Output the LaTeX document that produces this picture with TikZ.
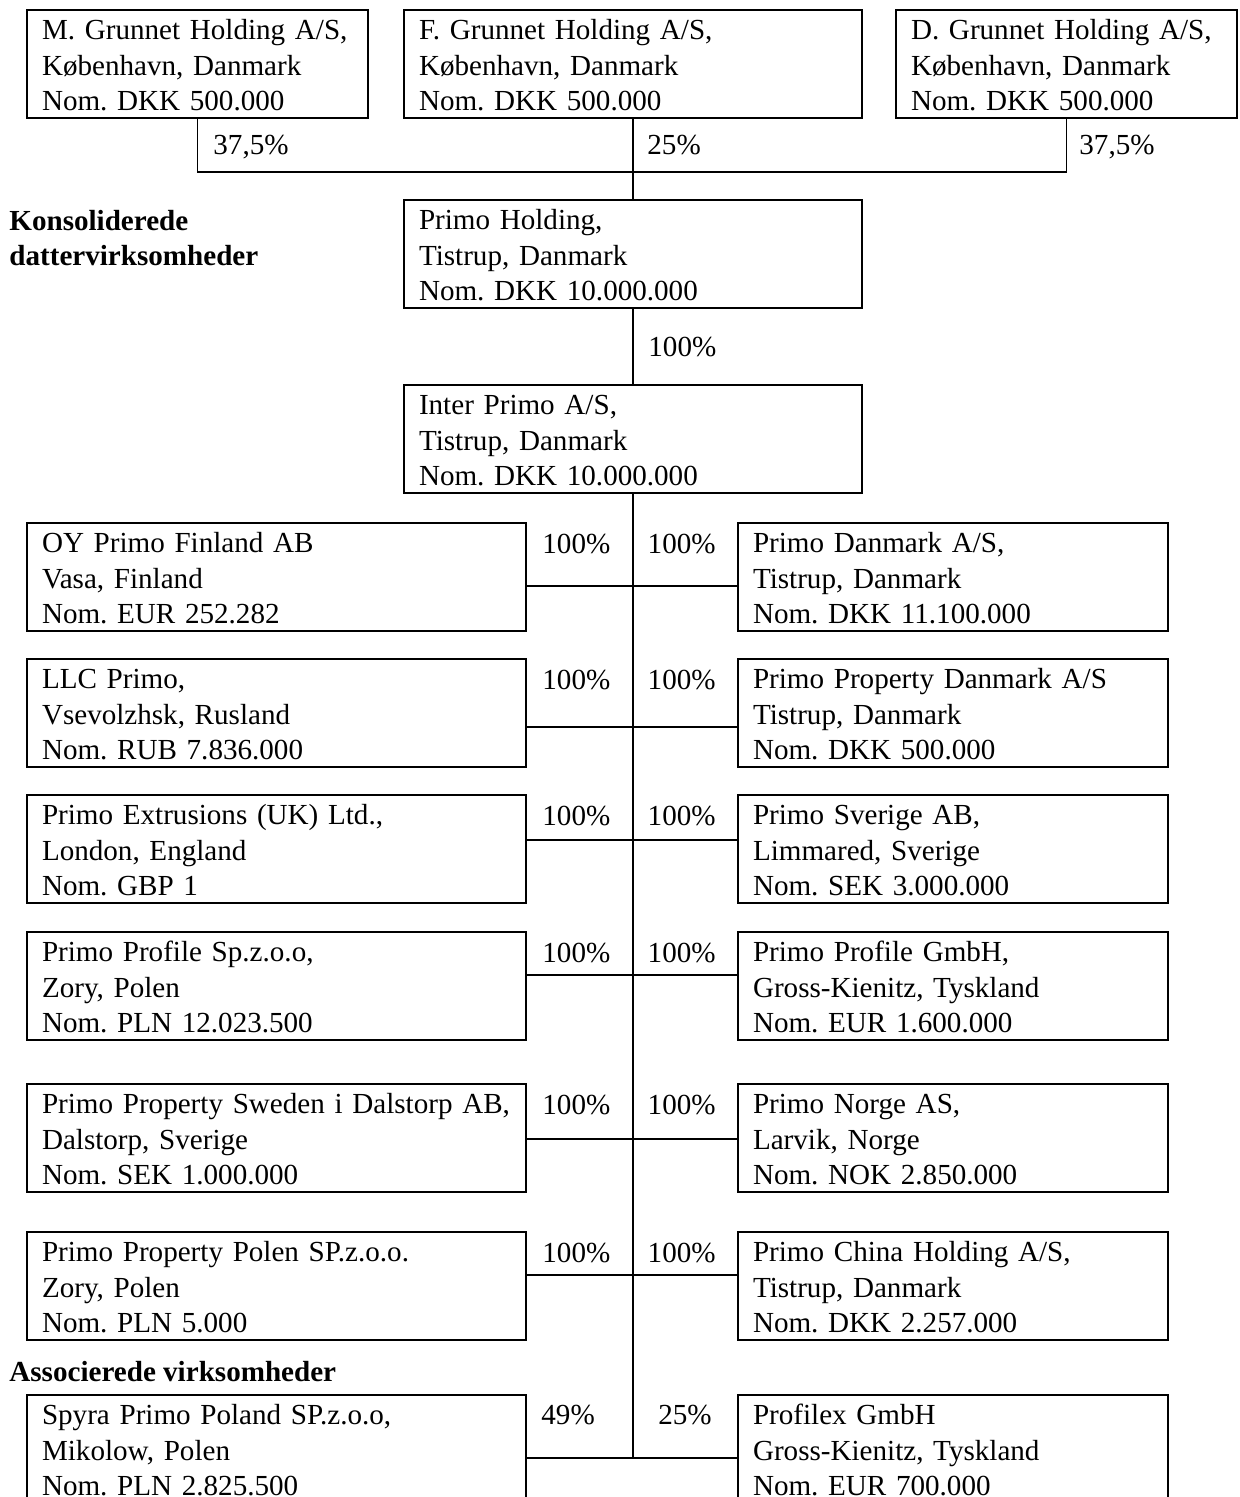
\documentclass[tikz,border=0pt]{standalone}
\usepackage{fontspec}
\setmainfont{Liberation Serif}
\frenchspacing
\begin{document}
\begin{tikzpicture}[x=0.5pt, y=-0.5pt,
    font=\fontsize{14.55}{17.75}\selectfont,
    company/.style={draw, line width=1pt, anchor=north west, outer sep=0pt,
        inner xsep=7.5pt, inner ysep=0pt, minimum height=54pt, text width=#1,
        align=left, execute at begin node={\rule{0pt}{11.5pt}}},
    share/.style={inner sep=0pt},
    heading/.style={inner sep=0pt, align=left,
        font=\fontsize{14.55}{17.5}\selectfont\bfseries},
    link/.style={line width=0.85pt}]
    \useasboundingbox (0,0) rectangle (1240,1497);
    \clip (0,0) rectangle (1240,1497);

    % 股东
    \node[company=155.5pt] (mgh) at (27,10) {M. Grunnet Holding A/S,\\København, Danmark\\Nom. DKK 500.000};
    \node[company=214pt] (fgh) at (404,10) {F. Grunnet Holding A/S,\\København, Danmark\\Nom. DKK 500.000};
    \node[company=155.5pt] (dgh) at (896,10) {D. Grunnet Holding A/S,\\København, Danmark\\Nom. DKK 500.000};
    \coordinate (bar) at (632,172);
    \draw[link] (mgh.south) |- (bar) -| (dgh.south);
    \node[share, anchor=base west] (s1) at (213,155) {37,5\%};
    \node[share, anchor=base west] (s2) at (647,155) {25\%};
    \node[share, anchor=base west] (s3) at (1079,155) {37,5\%};

    % 控股公司
    \node[heading, anchor=north west] (kons) at (9,210) {Konsoliderede\\dattervirksomheder};
    \node[company=214pt] (ph) at (404,200) {Primo Holding,\\Tistrup, Danmark\\Nom. DKK 10.000.000};
    \node[company=214pt] (ip) at (404,385) {Inter Primo A/S,\\Tistrup, Danmark\\Nom. DKK 10.000.000};
    \draw[link] (fgh.south) -- (ph.north);
    \draw[link] (ph.south) -- (ip.north);
    \node[share, anchor=base west] (s4) at (648,357) {100\%};

    % 子公司
    \node[company=234.5pt] (fin) at (27,523) {OY Primo Finland AB\\Vasa, Finland\\Nom. EUR 252.282};
    \node[company=200pt] (dk) at (738,523) {Primo Danmark A/S,\\Tistrup, Danmark\\Nom. DKK 11.100.000};
    \node[company=234.5pt] (rus) at (27,659) {LLC Primo,\\Vsevolzhsk, Rusland\\Nom. RUB 7.836.000};
    \node[company=200pt] (pdk) at (738,659) {Primo Property Danmark A/S\\Tistrup, Danmark\\Nom. DKK 500.000};
    \node[company=234.5pt] (uk) at (27,795) {Primo Extrusions (UK) Ltd.,\\London, England\\Nom. GBP 1};
    \node[company=200pt] (se) at (738,795) {Primo Sverige AB,\\Limmared, Sverige\\Nom. SEK 3.000.000};
    \node[company=234.5pt] (pl) at (27,932) {Primo Profile Sp.z.o.o,\\Zory, Polen\\Nom. PLN 12.023.500};
    \node[company=200pt] (de) at (738,932) {Primo Profile GmbH,\\Gross-Kienitz, Tyskland\\Nom. EUR 1.600.000};
    \node[company=234.5pt] (pse) at (27,1084) {Primo Property Sweden i Dalstorp AB,\\Dalstorp, Sverige\\Nom. SEK 1.000.000};
    \node[company=200pt] (no) at (738,1084) {Primo Norge AS,\\Larvik, Norge\\Nom. NOK 2.850.000};
    \node[company=234.5pt] (ppl) at (27,1232) {Primo Property Polen SP.z.o.o.\\Zory, Polen\\Nom. PLN 5.000};
    \node[company=200pt] (cn) at (738,1232) {Primo China Holding A/S,\\Tistrup, Danmark\\Nom. DKK 2.257.000};

    % 联营公司
    \node[heading, anchor=base west] (assoc) at (9,1381) {Associerede virksomheder};
    \node[company=234.5pt] (spy) at (27,1395) {Spyra Primo Poland SP.z.o.o,\\Mikolow, Polen\\Nom. PLN 2.825.500};
    \node[company=200pt] (pfx) at (738,1395) {Profilex GmbH\\Gross-Kienitz, Tyskland\\Nom. EUR 700.000};

    % 主干线和分支
    \coordinate (j1) at (632,586);
    \coordinate (j2) at (632,727);
    \coordinate (j3) at (632,840);
    \coordinate (j4) at (632,975);
    \coordinate (j5) at (632,1139);
    \coordinate (j6) at (632,1275);
    \coordinate (j7) at (632,1458);
    \draw[link] (ip.south) -- (ip.south |- j7);
    \draw[link] (fin.east |- j1) -- (dk.west |- j1);
    \draw[link] (rus.east |- j2) -- (pdk.west |- j2);
    \draw[link] (uk.east |- j3) -- (se.west |- j3);
    \draw[link] (pl.east |- j4) -- (de.west |- j4);
    \draw[link] (pse.east |- j5) -- (no.west |- j5);
    \draw[link] (ppl.east |- j6) -- (cn.west |- j6);
    \draw[link] (spy.east |- j7) -- (pfx.west |- j7);

    % 持股比例
    \node[share, anchor=base west] (l1) at (542,553) {100\%};
    \node[share, anchor=base east] (r1) at (716,553) {100\%};
    \node[share, anchor=base west] (l2) at (542,689) {100\%};
    \node[share, anchor=base east] (r2) at (716,689) {100\%};
    \node[share, anchor=base west] (l3) at (542,825) {100\%};
    \node[share, anchor=base east] (r3) at (716,825) {100\%};
    \node[share, anchor=base west] (l4) at (542,962) {100\%};
    \node[share, anchor=base east] (r4) at (716,962) {100\%};
    \node[share, anchor=base west] (l5) at (542,1114) {100\%};
    \node[share, anchor=base east] (r5) at (716,1114) {100\%};
    \node[share, anchor=base west] (l6) at (542,1262) {100\%};
    \node[share, anchor=base east] (r6) at (716,1262) {100\%};
    \node[share, anchor=base west] (l7) at (541,1424) {49\%};
    \node[share, anchor=base east] (r7) at (712,1424) {25\%};
\end{tikzpicture}
\end{document}
